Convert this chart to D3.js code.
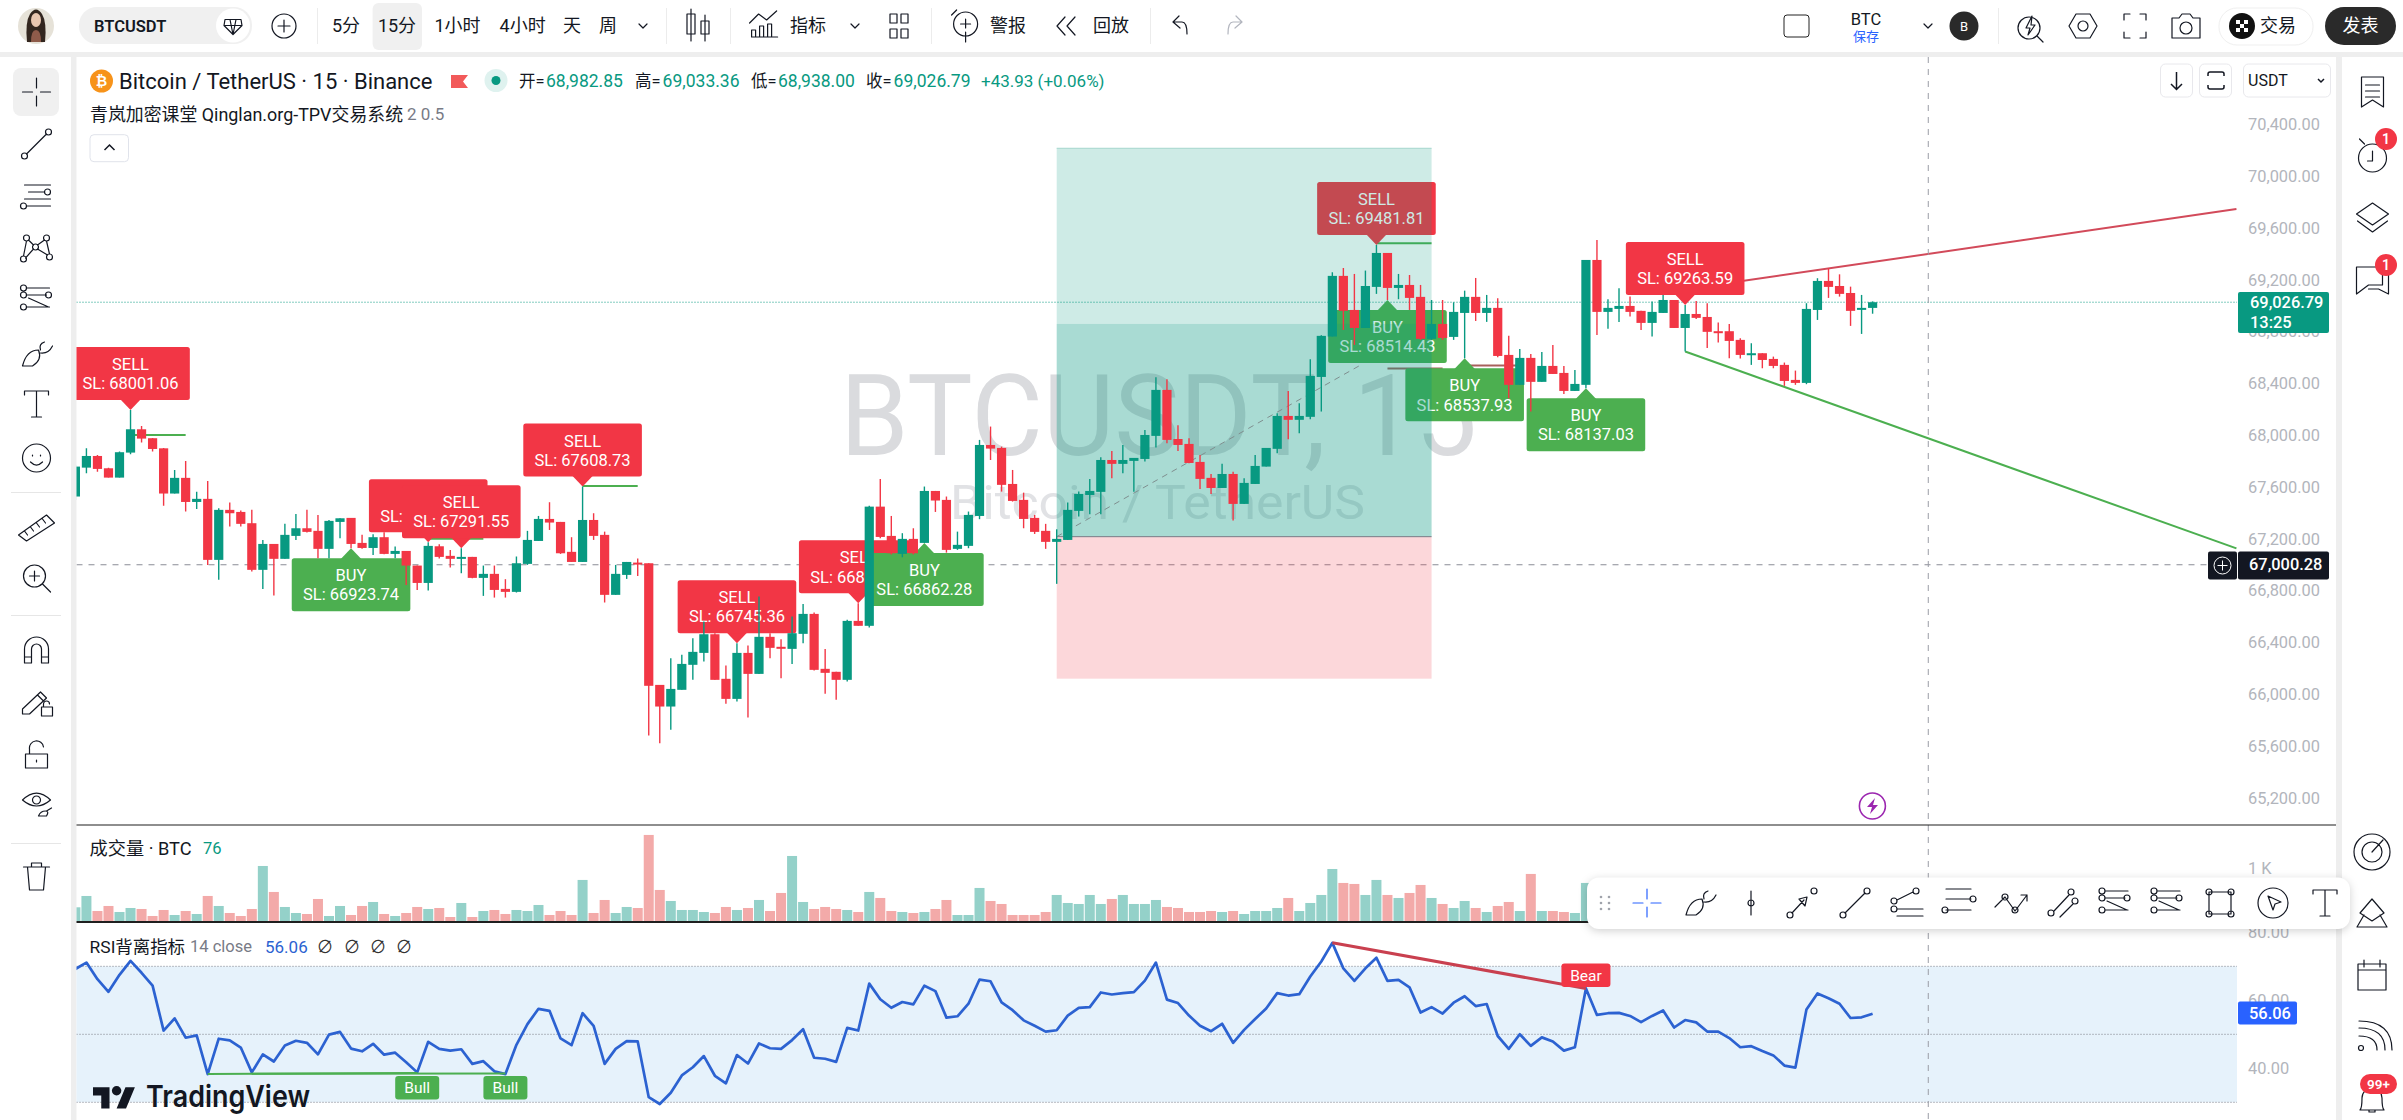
<!DOCTYPE html>
<html lang="zh"><head><meta charset="utf-8">
<style>html,body{margin:0;padding:0;background:#eeeeee;overflow:hidden}svg{display:block;font-family:Roboto,"Noto Sans CJK SC",sans-serif}</style>
<script src="https://cdn.jsdelivr.net/npm/d3@7"></script></head><body><div id="c"></div>
<script>
const candleOpen=[
67527,67750,67840,67745,67673,67866,68046,67977,67899,67550,
67671,67485,67509,67038,67424,67408,67321,66961,67161,67046,
67223,67282,67262,67123,67331,67362,67169,67130,67213,67084,
67107,66994,66860,67143,67069,67046,67061,66899,66930,66814,
66791,67007,67184,67354,67331,67100,67022,67346,67231,66768,
66922,67017,67012,66073,65906,66035,66228,66320,66464,66120,
65965,66320,66158,66444,66367,66351,66467,66621,66197,66174,
66112,66567,66529,67449,67223,67084,67200,67169,67570,67501,
67123,67146,67377,67925,67902,67624,67501,67362,67262,67177,
67192,67416,67539,67563,67809,67779,67802,67817,67995,68350,
67971,67933,67794,67671,67593,67701,67470,67624,67758,67895,
68149,68119,68142,68450,68762,69230,68967,68828,69145,69407,
69137,69160,69068,68744,68859,68759,68944,69068,68944,68983,
68620,68389,68597,68412,68535,68481,68342,68389,69353,68952,
68975,68998,68960,68867,68944,69044,68828,68936,68913,68803,
68803,68736,68620,68633,68589,68543,68427,68404,68967,69191,
69152,69098,68975,68982.85];
const candleHigh=[
67770,67899,67848,67750,67874,68195,68072,67979,67902,67732,
67802,67563,67647,67436,67480,67419,67424,67192,67161,67316,
67393,67424,67385,67346,67359,67362,67231,67236,67251,67141,
67107,66994,67174,67159,67115,67128,67061,66994,66994,66889,
67064,67262,67377,67483,67331,67213,67604,67398,67256,66999,
67022,67048,67012,66073,66279,66305,66433,66562,66472,66223,
66395,66377,66755,66472,66426,66601,66698,66631,66351,66174,
66575,66703,67455,67663,67377,67244,67282,67604,67570,67527,
67256,67411,67964,68067,67912,67732,67557,67385,67316,67274,
67480,67565,67663,67830,67879,67925,67825,68041,68447,68432,
68077,67977,67848,67701,67779,67719,67668,67848,67902,68170,
68342,68247,68587,68772,69258,69291,69245,69271,69469,69407,
69245,69237,69160,69044,69044,69026,69116,69214,69083,69057,
68767,68666,68628,68643,68697,68535,68504,69353,69507,69050,
69134,69070,68960,69032,69083,69044,69006,69037,69019,68870,
68859,68749,68710,68633,68607,68561,68499,69019,69212,69289,
69242,69147,69083,69033.36];
const candleLow=[
67500,67707,67719,67673,67673,67853,67943,67874,67455,67550,
67411,67431,66999,66884,67295,67295,66948,66814,66763,67046,
67192,67249,67051,67051,67205,67128,67123,67076,67082,67051,
66845,66806,66801,67048,66979,66935,66896,66760,66747,66747,
66786,66999,67184,67269,67084,67022,67022,67192,66709,66768,
66891,66914,65682,65623,65726,66035,66112,66253,66112,65927,
65945,65821,66158,66279,66125,66235,66395,66184,66004,65958,
66099,66529,66516,67205,67080,67058,67080,67169,67408,67094,
67115,67128,67352,67809,67565,67488,67282,67238,67123,66853,
67192,67372,67390,67390,67668,67707,67563,67797,67905,67938,
67879,67784,67586,67547,67593,67341,67470,67624,67758,67861,
67969,68016,68124,68183,68762,68813,68697,68828,69091,69044,
69050,68967,68736,68736,68736,68736,68594,68882,68875,68602,
68286,68389,68183,68412,68473,68319,68342,68363,68774,68821,
68875,68916,68813,68762,68944,68828,68646,68898,68674,68715,
68594,68592,68543,68517,68517,68381,68389,68394,68890,69060,
69070,68844,68782,68938];
const candleClose=[
67758,67840,67740,67673,67869,68046,67974,67894,67550,67671,
67485,67509,67038,67424,67398,67316,66961,67161,67046,67231,
67282,67254,67123,67339,67359,67161,67130,67213,67084,67107,
66994,66860,67146,67061,67046,67061,66899,66930,66806,66791,
67012,67192,67354,67326,67089,67022,67346,67223,66768,66930,
67022,67010,66066,65906,66042,66235,66328,66464,66112,65965,
66320,66158,66444,66359,66359,66472,66621,66189,66166,66112,
66567,66529,67449,67215,67089,67200,67089,67570,67496,67115,
67154,67385,67925,67897,67617,67493,67354,67254,67177,67200,
67424,67547,67570,67809,67779,67809,67825,68002,68350,67964,
67925,67786,67663,67593,67701,67470,67632,67763,67902,68149,
68119,68149,68458,68767,69230,68960,68828,69152,69407,69137,
69160,69060,68744,68859,68751,68952,69068,68944,68983,68612,
68389,68597,68412,68535,68473,68342,68396,69353,68952,68983,
68998,68952,68867,68952,69044,68828,68936,68906,68798,68798,
68728,68620,68633,68581,68535,68419,68404,68975,69191,69145,
69091,68960,68983,69026.79];
const volumes=[
260,475,190,285,171,247,228,95,209,114,
190,133,475,285,152,95,228,1044,551,266,
152,133,418,95,285,114,285,361,133,95,
152,266,228,247,76,342,76,190,209,133,
209,190,304,114,190,114,779,152,399,152,
266,247,1633,589,380,209,209,171,152,266,
209,247,399,190,532,1234,361,228,266,228,
209,171,551,437,190,171,152,171,228,399,
114,114,627,380,323,114,114,114,171,494,
342,323,494,323,418,494,323,323,399,266,
247,171,171,190,171,190,133,190,190,247,
437,190,342,494,987,722,703,494,779,494,
437,532,684,437,323,247,380,247,171,285,
361,190,893,190,190,171,152,722];
const rsiValues=[
69.2,71.1,66.2,62.5,67.5,71.6,68.1,64.3,51.1,54.7,
49.0,49.7,38.3,48.7,48.2,46.1,38.8,44.1,42.0,46.7,
48.1,47.5,44.1,49.9,50.7,45.8,45.0,47.2,44.0,44.6,
41.8,38.8,47.8,45.7,45.2,45.6,41.3,42.1,39.1,38.3,
46.9,53.0,57.5,56.9,48.8,46.8,56.2,52.5,41.3,45.7,
48.0,47.9,31.5,29.5,32.8,37.9,40.3,43.6,37.8,35.6,
43.9,41.4,47.3,45.9,45.7,48.3,51.5,43.1,42.8,41.9,
51.9,51.1,64.9,60.3,57.8,59.5,58.8,64.3,62.7,54.9,
55.3,59.0,66.1,65.6,59.4,57.1,54.1,52.5,50.8,51.2,
55.5,57.8,58.0,62.3,61.7,62.1,62.4,65.8,71.1,60.2,
59.2,55.5,52.5,50.9,53.1,47.5,51.3,54.5,57.6,62.1,
61.4,61.8,67.0,71.4,76.9,69.4,65.7,69.4,72.5,65.7,
66.0,63.8,56.4,58.0,56.1,59.3,61.2,58.3,58.9,49.5,
45.7,50.0,46.6,49.1,47.9,45.2,46.2,63.5,55.7,56.2,
56.3,55.4,53.6,55.4,57.0,52.0,54.2,53.5,50.8,50.8,
48.9,46.2,46.5,45.1,43.8,40.8,40.2,57.3,62.0,60.6,
59.0,54.8,55.0,56.06];
const priceTicks=[70400,70000,69600,69200,68800,68400,68000,67600,67200,66800,66400,66000,65600,65200];
const rsiTicks=[80,60,40];
const rsiBands=[70,50,30];
const volumeTicks=[1000];
const signalIndex=[5,25,32,35,46,60,71,77,118,119,126,137,146];
const signalSide=["SELL","BUY","SELL","SELL","SELL","SELL","SELL","BUY","SELL","BUY","BUY","BUY","SELL"];
const signalStop=[68001.06,66923.74,67201.40,67291.55,67608.73,66745.36,66830.50,66862.28,69481.81,68514.43,68537.93,68137.03,69263.59];
const positionBars=[89,123];
const positionLevels=[70215,68859,67217,66121];
const positionDashBars=[89,116.4];
const positionDashPrices=[67217,68534];
const resistanceBars=[146,196];
const resistancePrices=[69126,69746];
const supportBars=[146,196];
const supportPrices=[68646,67127];
const bullBars=[[12,31],[16,39]];
const bullRsi=[[38.3,38.6],[38.4,38.5]];
const bullTags=[31,39];
const bearBars=[114,137];
const bearRsi=[76.9,63.5];
const lastPrice=69026.79, crossPrice=67000.28, lastRsi=56.06;
const crossBarIndex=168.05;

const svg=d3.select("#c").append("svg").attr("width",2403).attr("height",1120);
const defs=svg.append("defs");
const L=76.5,R=2237,PT=57,PB=824.5,VB=921,RT=923,RB=1120;
function clip(id,x,y,w,h){defs.append("clipPath").attr("id",id).append("rect").attr("x",x).attr("y",y).attr("width",w).attr("height",h);}
clip("pP",L,PT,R-L,PB-PT);clip("pV",L,PB,R-L,VB-PB);clip("pR",L,RT,R-L,RB-RT);

const x=d3.scaleLinear().domain([0,163]).range([75.4,1872.6]);
const y=d3.scaleLinear().domain([65200,70400]).range([798,124.3]);
const yV=d3.scaleLinear().domain([0,1000]).range([VB,868.3]);
const yR=d3.scaleLinear().domain([30,70]).range([1102.3,966.3]);
const RED="#f23645",GRN="#089981",INK="#131722";
const candles=candleOpen.map((o,i)=>({i,o,h:candleHigh[i],l:candleLow[i],c:candleClose[i]}));
const up=i=>candleClose[i]>=candleOpen[i];

function txt(g,px,py,s,o={}){return g.append("text").attr("x",px).attr("y",py).attr("dy",".35em").attr("font-size",o.size||16)
 .attr("fill",o.fill||INK).attr("text-anchor",o.anchor||"start").attr("font-weight",o.weight||400).text(s);}
function box(g,px,py,w,h,f,r=0,st=null){return g.append("rect").attr("x",px).attr("y",py).attr("width",w).attr("height",h).attr("fill",f).attr("rx",r).attr("stroke",st);}
function c(cx,cy,r){return `M${cx-r} ${cy}a${r} ${r} 0 1 0 ${2*r} 0a${r} ${r} 0 1 0 ${-2*r} 0`;}

// backgrounds
box(svg,0,0,2403,52,"#fff");
box(svg,0,57,71,1063,"#fff");
box(svg,L,PT,2336-L,1120-PT,"#fff");
box(svg,2342,57,61,1063,"#fff");

// RSI band (below crosshair)
box(svg,L,yR(70),R-L,yR(30)-yR(70),"#e6f2fb");
const rsiG=svg.append("g").attr("clip-path","url(#pR)");
rsiBands.forEach(v=>rsiG.append("line").attr("x1",L).attr("x2",R).attr("y1",yR(v)).attr("y2",yR(v)).attr("stroke","#787b86").attr("stroke-dasharray","1 2"));

// price pane
const P=svg.append("g").attr("clip-path","url(#pP)");
P.append("text").attr("x",840).attr("y",455).attr("font-size",114).attr("fill","#dadbde").attr("textLength",637).attr("lengthAdjust","spacingAndGlyphs").text("BTCUSDT, 15");
P.append("text").attr("x",950).attr("y",519).attr("font-size",48).attr("fill","#e1e2e5").attr("textLength",415).attr("lengthAdjust","spacingAndGlyphs").text("Bitcoin / TetherUS");
P.append("line").attr("x1",L).attr("x2",R).attr("y1",y(lastPrice)).attr("y2",y(lastPrice)).attr("stroke",GRN).attr("stroke-dasharray","1 2");
P.append("line").attr("x1",L).attr("x2",R).attr("y1",y(crossPrice)).attr("y2",y(crossPrice)).attr("stroke","#8a8d96").attr("stroke-dasharray","6 6");
// vertical crosshair
svg.append("line").attr("x1",x(crossBarIndex)).attr("x2",x(crossBarIndex)).attr("y1",PT).attr("y2",RB).attr("stroke","#9a9da6").attr("stroke-dasharray","6 6");

// trend lines
P.append("line").attr("x1",x(resistanceBars[0])).attr("x2",x(resistanceBars[1])).attr("y1",y(resistancePrices[0])).attr("y2",y(resistancePrices[1])).attr("stroke","#d24a5a").attr("stroke-width",2);
P.append("line").attr("x1",x(supportBars[0])).attr("x2",x(supportBars[1])).attr("y1",y(supportPrices[0])).attr("y2",y(supportPrices[1])).attr("stroke","#4caf50").attr("stroke-width",2);
// stop-loss stubs
signalIndex.forEach((b,k)=>{P.append("line").attr("x1",x(b)).attr("x2",x(b+5)).attr("y1",y(signalStop[k])).attr("y2",y(signalStop[k]))
 .attr("stroke",signalSide[k]==="SELL"?"#4caf50":"#a8605c").attr("stroke-width",2);});
// signal labels
const BW=118.6,BH=53,TIP=10;
signalIndex.forEach((b,k)=>{
 const sell=signalSide[k]==="SELL",cx=x(b),col=sell?RED:"#4caf50",tip=y(sell?candleHigh[b]:candleLow[b]);
 const top=sell?tip-TIP-BH:tip+TIP;const g=P.append("g");
 g.append("path").attr("fill",col).attr("d",sell?`M${cx-10.5} ${tip-TIP-1}L${cx} ${tip}L${cx+10.5} ${tip-TIP-1}Z`:`M${cx-10.5} ${tip+TIP+1}L${cx} ${tip}L${cx+10.5} ${tip+TIP+1}Z`);
 box(g,cx-BW/2,top,BW,BH,col,2.5);
 txt(g,cx,top+17.3,signalSide[k],{anchor:"middle",fill:"#fff",size:16.5});
 txt(g,cx,top+36.5,"SL: "+signalStop[k].toFixed(2),{anchor:"middle",fill:"#fff",size:16.5});
});
// position tool
const pl=x(positionBars[0]),pr=x(positionBars[1]);
P.append("rect").attr("x",pl).attr("width",pr-pl).attr("y",y(positionLevels[0])).attr("height",y(positionLevels[1])-y(positionLevels[0])).attr("fill","#089981").attr("fill-opacity",.2);
P.append("rect").attr("x",pl).attr("width",pr-pl).attr("y",y(positionLevels[1])).attr("height",y(positionLevels[2])-y(positionLevels[1])).attr("fill","#089981").attr("fill-opacity",.35);
P.append("rect").attr("x",pl).attr("width",pr-pl).attr("y",y(positionLevels[2])).attr("height",y(positionLevels[3])-y(positionLevels[2])).attr("fill","#f23645").attr("fill-opacity",.2);
P.append("line").attr("x1",pl).attr("x2",pr).attr("y1",y(positionLevels[2])).attr("y2",y(positionLevels[2])).attr("stroke","#787b86");
P.append("line").attr("x1",pl).attr("x2",pr).attr("y1",y(positionLevels[0])).attr("y2",y(positionLevels[0])).attr("stroke","#a5d6cd");
P.append("line").attr("x1",x(positionDashBars[0])).attr("x2",x(positionDashBars[1])).attr("y1",y(positionDashPrices[0])).attr("y2",y(positionDashPrices[1])).attr("stroke","#7f8f8f").attr("stroke-dasharray","6 5");
// candles
const cg=P.append("g");
cg.selectAll("line").data(candles).join("line").attr("x1",d=>x(d.i)).attr("x2",d=>x(d.i)).attr("y1",d=>y(d.h)).attr("y2",d=>y(d.l))
 .attr("stroke",d=>d.c>=d.o?GRN:RED).attr("stroke-width",1.4);
cg.selectAll("rect").data(candles).join("rect").attr("x",d=>x(d.i)-4.6).attr("width",9.2)
 .attr("y",d=>y(Math.max(d.o,d.c))).attr("height",d=>Math.max(2,Math.abs(y(d.o)-y(d.c)))).attr("fill",d=>d.c>=d.o?GRN:RED);
// lightning badge
P.append("circle").attr("cx",1872.4).attr("cy",806).attr("r",13).attr("fill","#fff").attr("stroke","#9c27b0").attr("stroke-width",1.6);
P.append("path").attr("d","M1875 798L1867 807H1872L1870 814L1878 805H1873Z").attr("fill","#9c27b0");

// volume
const V=svg.append("g").attr("clip-path","url(#pV)");
V.selectAll("rect").data(volumes).join("rect").attr("x",(d,i)=>x(i)-5).attr("width",10).attr("y",d=>yV(d)).attr("height",d=>VB-yV(d))
 .attr("fill",(d,i)=>up(i)?"#94d1c9":"#f3aaa9");
box(svg,L,PB,2336-L,1,"#1f1f1f");
box(svg,L,921,2336-L,2,"#1f1f1f");

// RSI
const rsiLine=d3.line().x((d,i)=>x(i)).y(d=>yR(d));
rsiG.append("path").datum(rsiValues).attr("d",rsiLine).attr("fill","none").attr("stroke","#2c62d1").attr("stroke-width",2.7).attr("stroke-linejoin","round");
bullBars.forEach((b,k)=>rsiG.append("line").attr("x1",x(b[0])).attr("x2",x(b[1])).attr("y1",yR(bullRsi[k][0])).attr("y2",yR(bullRsi[k][1])).attr("stroke","#4caf50").attr("stroke-width",2));
rsiG.append("line").attr("x1",x(bearBars[0])).attr("x2",x(bearBars[1])).attr("y1",yR(bearRsi[0])).attr("y2",yR(bearRsi[1])).attr("stroke","#c9404f").attr("stroke-width",3);
bullTags.forEach(b=>{box(rsiG,x(b)-22,1076,44,23.5,"#4caf50",3);txt(rsiG,x(b),1088,"Bull",{anchor:"middle",fill:"#fff",size:15.5});});
box(rsiG,x(137)-24.5,963.5,49,23.5,RED,3);txt(rsiG,x(137),975.5,"Bear",{anchor:"middle",fill:"#fff",size:15.5});
// TradingView logo
const lg=svg.append("g").attr("transform","translate(93,1082.5) scale(1.18)").attr("fill","#131722");
lg.append("path").attr("d","M14 22H7V11H0V4h14v18ZM28 22h-8l7.5-18h8L28 22Z");lg.append("circle").attr("cx",20).attr("cy",7).attr("r",4);
svg.append("text").attr("x",146).attr("y",1107).attr("font-family","Inter").attr("font-weight",600).attr("font-size",30).attr("fill","#131722").attr("textLength",164).attr("lengthAdjust","spacingAndGlyphs").text("TradingView");

// axes
function axis(sc,vals,fmt){const g=svg.append("g").attr("transform",`translate(${R+1},0)`).call(d3.axisRight(sc).tickValues(vals).tickSize(0).tickPadding(10).tickFormat(fmt));
 g.select(".domain").remove();g.selectAll("text").attr("fill","#b2b5bc").attr("font-size",16.4).attr("font-family","Roboto");}
axis(y,priceTicks,d3.format(",.2f"));
axis(yV,volumeTicks,d=>(d/1000)+" K");
axis(yR,rsiTicks,d3.format(".2f"));

// price tags
box(svg,R+1,292,91,41,GRN,2);txt(svg,2250,302,d3.format(",.2f")(lastPrice),{fill:"#fff",size:16.4,weight:500});txt(svg,2250,322,"13:25",{fill:"#fff",size:16.4,weight:500});
box(svg,2208,551.5,29,28,"#131722",2);box(svg,R+1,551.5,91,28,"#131722",2);
svg.append("path").attr("d",c(2222.5,565.5,8.5)+"M2217.5 565.5H2227.5M2222.5 560.5V570.5").attr("fill","none").attr("stroke","#fff");
txt(svg,2249,564.5,d3.format(",.2f")(crossPrice),{fill:"#fff",size:16.4,weight:500});
box(svg,R+1,1001.5,59,23,"#2962ff",2);txt(svg,2249,1013.5,lastRsi.toFixed(2),{fill:"#fff",size:16.4,weight:500});

// legends
svg.append("circle").attr("cx",101.5).attr("cy",81).attr("r",11.5).attr("fill","#f7931a");
txt(svg,101.5,81,"₿",{anchor:"middle",fill:"#fff",size:14,weight:700});
txt(svg,119,81.5,"Bitcoin / TetherUS · 15 · Binance",{size:22});
svg.append("path").attr("d","M451 75H468L463 81.5L468 88H451Z").attr("fill","#f25a5a");
svg.append("circle").attr("cx",496).attr("cy",80.5).attr("r",11.5).attr("fill","#dff2ef");
svg.append("circle").attr("cx",496).attr("cy",80.5).attr("r",4.5).attr("fill",GRN);
[["开=",519,"68,982.85",546],["高=",635,"69,033.36",662.6],["低=",751,"68,938.00",778],["收=",866,"69,026.79",893.6]].forEach(a=>{
 txt(svg,a[1],81,a[0],{size:16.5});txt(svg,a[3],81,a[2],{size:17.5,fill:GRN});});
txt(svg,981,81,"+43.93 (+0.06%)",{size:17,fill:GRN});
txt(svg,90,115,"青岚加密课堂 Qinglan.org-TPV交易系统",{size:17.9});txt(svg,407,114,"2 0.5",{size:17,fill:"#787b86"});
box(svg,90,134.7,38.5,27,"#fff",4,"#e0e3eb");
svg.append("path").attr("d","M104.5 150L109.5 145L114.5 150").attr("fill","none").attr("stroke",INK).attr("stroke-width",1.5);
txt(svg,89.6,849,"成交量 · BTC",{size:18.2});txt(svg,203,848,"76",{size:16.5,fill:GRN});
txt(svg,89.6,947,"RSI背离指标",{size:17.4});txt(svg,190,946,"14 close",{size:16.5,fill:"#787b86"});txt(svg,265,947,"56.06",{size:17,fill:"#2c62d1"});
[325,352,378,404].forEach(px=>txt(svg,px,947,"∅",{size:17,anchor:"middle",fill:"#333"}));

// chart corner buttons
box(svg,2160.5,64,32,33,"#fff",5,"#e8e8ec");box(svg,2199.5,64,32,33,"#fff",5,"#e8e8ec");box(svg,2243.5,64,87,33,"#fff",5,"#e8e8ec");
svg.append("path").attr("d","M2176.5 72V89M2171 84L2176.5 89.5L2182 84M2208 76V74Q2208 72 2210 72H2222Q2224 72 2224 74V76M2208 85V87Q2208 89 2210 89H2222Q2224 89 2224 87V85").attr("fill","none").attr("stroke",INK).attr("stroke-width",1.5);
txt(svg,2248,80,"USDT",{size:16});
svg.append("path").attr("d","M2318 79L2321 82L2324 79").attr("fill","none").attr("stroke",INK).attr("stroke-width",1.5);

// icons
function ic(cx,cy,d,o={}){const g=svg.append("g").attr("transform",`translate(${cx},${cy})`);
 g.append("path").attr("d",d).attr("fill",o.fill||"none").attr("stroke",o.stroke||INK).attr("stroke-width",o.w||1.2).attr("stroke-linecap","round").attr("stroke-linejoin","round");return g;}
const I={
 cross:"M0 -14V-4M0 4V14M-14 0H-4M4 0H14",
 line:c(-12,12,3)+c(12,-12,3)+"M-10 10L10 -10",
 lines:"M-12 -12H14M-8 -5H8M-12 2H14M-10 9H14"+c(11,-5,3)+c(-13,9,3),
 pattern:c(-10,-11,3)+c(10,-11,3)+c(-13,10,3)+c(13,8,3)+c(-1,-2,3)+"M-10 -8L-13 7M-8 -9L-3 -4M8 -9L1 -4M10 -8L13 5M-11 9L-3 0M1 0L11 6",
 fib:"M-10 -12H13M-10 -5H10M-10 7H13"+c(-13,-12,3)+c(-13,-5,3)+c(12,-5,3)+c(-13,7,3)+"M-8 -2L12 7",
 brush:"M-14 12H-4Q6 6 2 -4Q-10 -4 -14 12ZM4 -4Q2 -10 8 -12M4 -1Q12 0 16 -8",
 t:"M-12 -9V-13H12V-9M0 -13V13M-5 13H5",
 smile:c(0,0,14)+"M-4 -3V-2M4 -3V-2M-6 4Q0 10 6 4",
 ruler:"M-18 8L10 -12L18 -4L-10 14ZM-12 4L-9 8M-6 0L-3 4M0 -4L3 0M6 -8L9 -4",
 zoom:c(-2,-2,11)+"M-7 -2H3M-2 -7V3M6 6L14 14",
 magnet:"M-12 13V-1A12 12 0 0 1 12 -1V13H5V-1A5 5 0 0 0 -5 -1V13ZM-12 7H-5M5 7H12",
 pen:"M-14 7L4 -10L10 -4L-7 12H-14ZM1 -7L7 -1M5 5H16V14H5ZM7 5V2A3 3 0 0 1 13 2",
 lock:"M-11 -1H11V13H-11ZM-7 -1V-6A7 7 0 0 1 7 -8M0 5V7",
 eye:"M-14 -3Q0 -17 14 -3Q0 9 -14 -3Z"+c(0,-3,4)+"M2 13H10Q13 8 9 8Q4 8 2 13ZM10 8L15 5",
 trash:"M-13 -10H13M-9 -10L-7 13H7L9 -10M-5 -10V-14H5V-10",
 vert:"M0 -12V12"+c(0,0,3),
 arrow:c(-12,12,3)+c(12,-12,3)+"M-10 10L2 -3M-3 -4L5 -6L3 3Z",
 chan:c(-13,-2,3)+c(9,-12,3)+c(-13,6,3)+"M-10 -3L6 -11M-10 6H16M-10 13H16",
 par:"M-13 -14H12M-13 -4H12M-13 7H12"+c(14,-4,3)+c(-14,7,3),
 poly:"M-17 4L-7 -6L3 8L15 -8M9 -8H15V-2"+c(-7,-6,3)+c(3,7,3),
 twin:c(-14,10,3)+"M-11 8L4 -8"+c(6,-11,3)+"M-5 14L8 1"+c(10,-2,3),
 rect:"M-11 -11H11V11H-11Z"+c(-11,-11,3)+c(11,-11,3)+c(-11,11,3)+c(11,11,3),
 cursor:c(0,0,15)+"M-5 -7L8 -1L2 1L0 7Z",
 candle:"M-7 -17V15M-7 -12H-3V8H-11V-12ZM7 -11V15M11 -5H3V8H11Z",
 indi:"M-12 11H14M-12 11V4H-8V11M-4 11V0H0V11M4 11V-2H8V11M-14 -3L-5 -12L3 -6L13 -15",
 four:"M-9 -12H-2V-3H-9ZM2 -12H9V-3H2ZM-9 3H-2V12H-9ZM2 3H9V12H2Z",
 alarm:c(0,0,12)+"M-14 -9L-9 -14M0 -5V4M-5 0H5M0 8V18",
 rewind:"M-2 -9L-10 0L-2 9M8 -9L0 0L8 9",
 undo:"M-7 -4L-1 -10M-7 -4L0 2M-7 -4H2Q7 -4 7 8",
 redo:"M7 -4L1 -10M7 -4L0 2M7 -4H-2Q-7 -4 -7 8",
 plus:c(0,0,12)+"M-6 0H6M0 -6V6",
 gem:"M-8 -6H8L9 0L0 9L-9 0ZM-9 0H9M-3 -6L0 9L3 -6",
 search:c(-2,2,11)+"M6 10L12 16M1 -10L-5 2H-1L-3 9L4 -1H0Z",
 hex:"M-14 0L-7 -12H7L14 0L7 12H-7Z"+c(0,0,5),
 full:"M-11 -6V-12H-5M5 -12H11V-6M11 6V12H5M-5 12H-11V6",
 cam:"M-14 -8H-7L-4 -12H4L7 -8H14V12H-14Z"+c(0,2,6),
 book:"M-11 -15H11V15L0 8L-11 15ZM-7 -7H7M-7 -1H7M-7 5H7",
 clock:c(0,3,14)+"M-13 -16L-8 -11M0 -4V6H-5",
 layers:"M0 -14L16 -3L0 8L-16 -3ZM-15 4L0 15L15 4",
 chat:"M-16 -13H10V5H-4L-16 14ZM14 -8H16V14L6 9H-4",
 radar:c(0,0,18)+c(0,0,10)+"M0 0L11 -12",
 pine:"M0 -14L12 0L0 8L-12 0ZM-8 2L-15 14H15L8 2",
 cal:"M-14 -10H14V16H-14ZM-8 -14V-7M8 -14V-7M-14 -4H14",
 rss:c(-11,12,2.5)+"M-13 0Q5 0 5 14M-13 -8Q13 -8 13 14M-13 -15Q20 -15 20 14",
 bell:"M-12 8Q-10 6 -10 -4A10 10 0 0 1 10 -4Q10 6 12 8ZM-3 8V10H3V8"
};
[["cross",92],["line",144],["lines",197],["pattern",249],["fib",300],["brush",354],["t",404],["smile",458],["ruler",527],["zoom",578],["magnet",650],["pen",702],["lock",755],["eye",803],["trash",877]].forEach((a,k)=>{
 if(k===0) box(svg,13,68,46,48,"#f0f0f0",8);
 ic(36.5,a[1],I[a[0]]);});
[492,615,843].forEach(py=>box(svg,11,py,50,1,"#e6e6e6"));

// top bar
svg.append("circle").attr("cx",36).attr("cy",26).attr("r",18).attr("fill","#e6e2d8");
svg.append("path").attr("d","M27 42Q25 22 30 14Q36 5 42 14Q47 22 45 42Z").attr("fill","#33261f");
svg.append("ellipse").attr("cx",36).attr("cy",20).attr("rx",5).attr("ry",7).attr("fill","#e8c6b0");
svg.append("path").attr("d","M31 42Q31 30 36 30Q41 30 41 42Z").attr("fill","#8e5b4a");
box(svg,79,7,173,37,"#f0f0f0",18);
svg.append("circle").attr("cx",233).attr("cy",25.5).attr("r",17).attr("fill","#fff");
txt(svg,94,26,"BTCUSDT",{size:16.5,weight:600});
ic(233,25.5,I.gem);ic(284,26,I.plus);
box(svg,372.6,3,49.4,47,"#f0f0f0",6);
[["5分",346],["15分",397],["1小时",457.5],["4小时",522.6],["天",572],["周",608]].forEach(a=>txt(svg,a[1],26,a[0],{size:18,anchor:"middle"}));
[643,855,1928].forEach(px=>ic(px,26,"M-4 -2L0 2L4 -2"));
[317,666,730,931,1150,1998].forEach(px=>box(svg,px,8,1,36,"#ececec"));
ic(698,26,I.candle);ic(763.6,26,I.indi);txt(svg,808,26,"指标",{size:18,anchor:"middle"});
ic(899,26,I.four);ic(965.6,24,I.alarm);txt(svg,1008,26,"警报",{size:18,anchor:"middle"});
ic(1067,26,I.rewind);txt(svg,1111,26,"回放",{size:18,anchor:"middle"});
ic(1180,26,I.undo);ic(1235,26,I.redo,{stroke:"#b2b5be"});
box(svg,1784,15,25,22,"#fff",3,"#222");
txt(svg,1866,19,"BTC",{size:16.5,anchor:"middle"});txt(svg,1866,36,"保存",{size:13,anchor:"middle",fill:"#2962ff"});
svg.append("circle").attr("cx",1964).attr("cy",26).attr("r",14.5).attr("fill","#2a2a2a");txt(svg,1964,26,"B",{size:13,anchor:"middle",fill:"#fff"});
ic(2031,26,I.search);ic(2083,26,I.hex);ic(2135,26,I.full);ic(2186,26,I.cam);
box(svg,2219,8,94,37,"#fff",18,"#efefef");
svg.append("circle").attr("cx",2242).attr("cy",26).attr("r",13).attr("fill","#111");
[[-6,-6],[2,-6],[-2,-2],[-6,2],[2,2]].forEach(p=>box(svg,2242+p[0],26+p[1],4,4,"#fff"));
txt(svg,2278,26,"交易",{size:18,anchor:"middle"});
box(svg,2325,7,71,38,"#2a2a2a",19);txt(svg,2360.5,26,"发表",{size:18,anchor:"middle",fill:"#fff"});

// right rail
[["book",92],["clock",155],["layers",217],["chat",280]].forEach(a=>ic(2372.5,a[1],I[a[0]]));
[139,265].forEach(py=>{svg.append("circle").attr("cx",2386).attr("cy",py).attr("r",11).attr("fill",RED);txt(svg,2386,py,"1",{size:14,anchor:"middle",fill:"#fff",weight:600});});
[["radar",852],["pine",913],["cal",974],["rss",1036],["bell",1102]].forEach(a=>ic(2372,a[1],I[a[0]]));
box(svg,2360,1074,37,20,RED,10);txt(svg,2378.5,1084,"99+",{size:13.5,anchor:"middle",fill:"#fff",weight:600});

// floating drawing bar
const fb=box(svg,1587,877.5,763,51.5,"#fff",12);fb.style("filter","drop-shadow(0 2px 4px rgba(0,0,0,.18))");
[[-4,-5],[4,-5],[-4,1],[4,1],[-4,7],[4,7]].forEach(p=>svg.append("circle").attr("cx",1605+p[0]).attr("cy",902+p[1]).attr("r",1.3).attr("fill","#a0a3ab"));
[["cross",1647],["brush",1700],["vert",1751],["arrow",1802],["line",1855],["chan",1907],["par",1959],["poly",2012],["twin",2065],["fib",2115],["fib",2167],["rect",2220],["cursor",2273],["t",2325]].forEach((a,k)=>ic(a[1],903,I[a[0]],k===0?{stroke:"#2962ff"}:{}));
</script></body></html>
